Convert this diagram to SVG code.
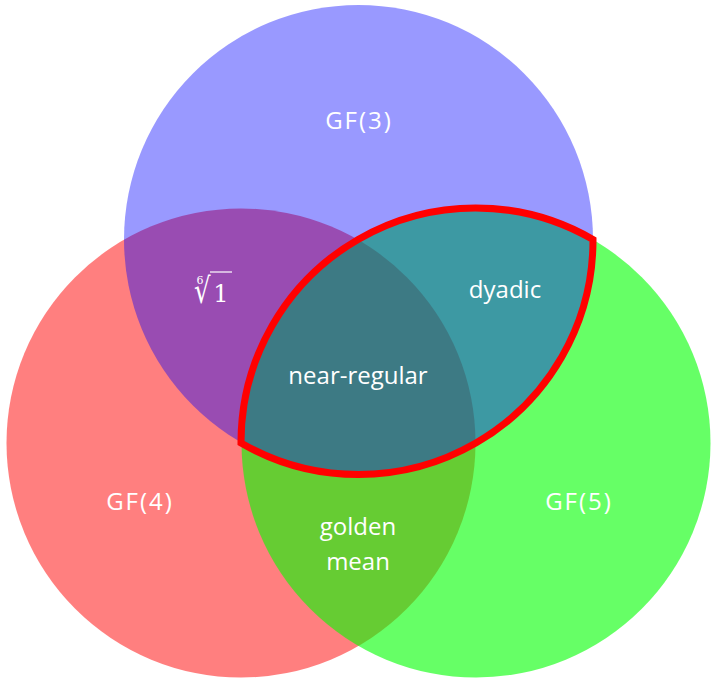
<svg xmlns="http://www.w3.org/2000/svg" width="712" height="680" viewBox="0 0 712 680">
<style>
.lbl{font-family:"Open Sans","Noto Sans",Lato,"Liberation Sans",sans-serif;font-size:24px;fill:#ffffff;text-anchor:middle}
.gf{letter-spacing:2px}
.math{font-family:"DejaVu Serif","Liberation Serif",serif;fill:#ffffff}
</style>
<rect width="712" height="680" fill="#ffffff"/>
<g id="gf4"><circle cx="241" cy="443" r="234.5" fill="#ff0000" fill-opacity="0.5"/></g>
<g id="gf5"><circle cx="476" cy="443" r="234.5" fill="#00ff00" fill-opacity="0.6"/></g>
<g id="gf3"><circle cx="358.5" cy="239.5" r="234.5" fill="#0000ff" fill-opacity="0.4"/></g>
<g id="highlight"><path d="M241,443 A234.5,234.5 0 0 1 593,239.5 A234.5,234.5 0 0 1 241,443 Z" fill="none" stroke="#ff0000" stroke-width="7" stroke-linejoin="miter"/></g>
<g id="labels">
<text class="lbl gf" x="359" y="129">GF(3)</text>
<text class="lbl gf" x="140" y="510">GF(4)</text>
<text class="lbl gf" x="579" y="510">GF(5)</text>
<text class="lbl" x="505" y="298">dyadic</text>
<text class="lbl" x="358" y="384">near-regular</text>
<text class="lbl" x="358" y="535">golden</text>
<text class="lbl" x="358" y="570">mean</text>
<g id="root">
<text class="math" x="200" y="284" font-size="11" text-anchor="middle">6</text>
<text class="math" font-size="26" transform="translate(194,303) scale(1,1.35)">√</text>
<line x1="210" y1="272" x2="232" y2="272" stroke="#ffffff" stroke-width="1.2"/>
<text class="math" x="221" y="302" font-size="24" text-anchor="middle">1</text>
</g>
</g>
</svg>
